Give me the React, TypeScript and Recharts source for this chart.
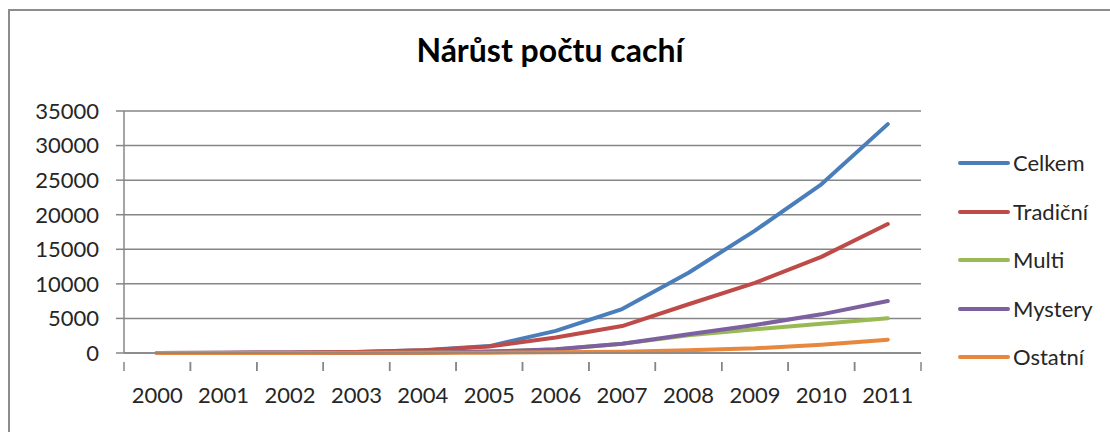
import React from 'react';
import { ComposedChart, Line, XAxis, YAxis, CartesianGrid, Legend } from 'recharts';

const years = ['2000', '2001', '2002', '2003', '2004', '2005', '2006', '2007', '2008', '2009', '2010', '2011'];
const celkem = [10, 40, 80, 150, 400, 1000, 3200, 6350, 11600, 17700, 24400, 33100];
const tradicni = [10, 40, 75, 140, 380, 950, 2250, 3900, 7050, 10150, 13900, 18650];
const multi = [0, 2, 5, 10, 40, 200, 500, 1350, 2550, 3420, 4240, 5020];
const mystery = [0, 2, 5, 10, 40, 200, 530, 1350, 2700, 4050, 5590, 7520];
const ostatni = [5, 10, 15, 20, 30, 50, 100, 190, 390, 680, 1210, 1930];
const yTicks = [0, 5000, 10000, 15000, 20000, 25000, 30000, 35000];

const seriesNames = ['Celkem', 'Tradiční', 'Multi', 'Mystery', 'Ostatní'];
const seriesValues = [celkem, tradicni, multi, mystery, ostatni];
const colors = ['#4A7EBB', '#BE4B48', '#98B954', '#7D60A0', '#E8873E'];

const data = years.map((y, i) => {
  const row: Record<string, string | number> = { year: y };
  seriesNames.forEach((n, k) => {
    row[n] = seriesValues[k][i];
  });
  return row;
});

const FONT = 'Lato, "Open Sans", sans-serif';
const AXIS_COLOR = '#868686';
const X_TICK_SIZE = 9;
const X_TICK_MARGIN = 25;

const XTick = (props: any) => {
  const { x, y, payload } = props;
  const half = payload && payload.offset ? payload.offset : 0;
  const axisY = y - X_TICK_MARGIN;
  return (
    <g>
      <line x1={x - half} x2={x - half} y1={axisY} y2={axisY + X_TICK_SIZE} stroke={AXIS_COLOR} strokeWidth={1.5} />
      <line x1={x + half} x2={x + half} y1={axisY} y2={axisY + X_TICK_SIZE} stroke={AXIS_COLOR} strokeWidth={1.5} />
      <text x={x} y={y} dy="0.71em" textAnchor="middle" fill="#262626" fontSize={22} fontFamily={FONT}>
        {payload.value}
      </text>
    </g>
  );
};

const LegendContent = () => (
  <div style={{ paddingTop: 139, paddingLeft: 37 }}>
    {seriesNames.map((n, k) => (
      <div key={n} style={{ height: 48.5, display: 'flex', alignItems: 'center' }}>
        <div style={{ width: 52, height: 4, borderRadius: 2, background: colors[k] }} />
        <span style={{ marginLeft: 3, fontSize: 22, fontFamily: FONT, color: '#262626', lineHeight: '24px' }}>{n}</span>
      </div>
    ))}
  </div>
);

export default function App() {
  return (
    <div style={{ position: 'absolute', left: 0, top: 0, width: 1110, height: 432, background: '#fff', overflow: 'hidden' }}>
      <div style={{ position: 'absolute', left: 8, top: 9, width: 1300, height: 600, border: '2px solid #8c8c8c', boxSizing: 'border-box' }} />
      <div style={{ position: 'absolute', left: 0, width: 1100, top: 31, textAlign: 'center', fontFamily: FONT, fontWeight: 700, fontSize: 32, color: '#000', lineHeight: '38px' }}>
        Nárůst počtu cachí
      </div>
      <div style={{ position: 'absolute', left: 0, top: 0 }}>
        <ComposedChart width={1110} height={432} data={data} margin={{ top: 111, right: 0, bottom: 0, left: 0 }}>
          <CartesianGrid vertical={false} stroke={AXIS_COLOR} strokeWidth={1.5} />
          <XAxis
            dataKey="year"
            scale="band"
            tickLine={false}
            tickSize={X_TICK_SIZE}
            tickMargin={X_TICK_MARGIN}
            axisLine={{ stroke: AXIS_COLOR, strokeWidth: 1.5 }}
            tick={<XTick />}
            interval={0}
            height={79}
          />
          <YAxis
            width={124}
            domain={[0, 35000]}
            ticks={yTicks}
            interval={0}
            tickSize={8}
            tickMargin={17}
            tickLine={{ stroke: AXIS_COLOR, strokeWidth: 1.5 }}
            axisLine={{ stroke: AXIS_COLOR, strokeWidth: 1.5 }}
            tick={{ fill: '#262626', fontSize: 22, fontFamily: FONT }}
          />
          <Legend
            layout="vertical"
            align="right"
            verticalAlign="top"
            width={189}
            wrapperStyle={{ top: 0, right: 0 }}
            content={<LegendContent />}
          />
          {seriesNames.map((n, k) => (
            <Line
              key={n}
              type="linear"
              dataKey={n}
              stroke={colors[k]}
              strokeWidth={4}
              dot={false}
              activeDot={false}
              isAnimationActive={false}
              strokeLinecap="round"
              strokeLinejoin="round"
            />
          ))}
        </ComposedChart>
      </div>
    </div>
  );
}
